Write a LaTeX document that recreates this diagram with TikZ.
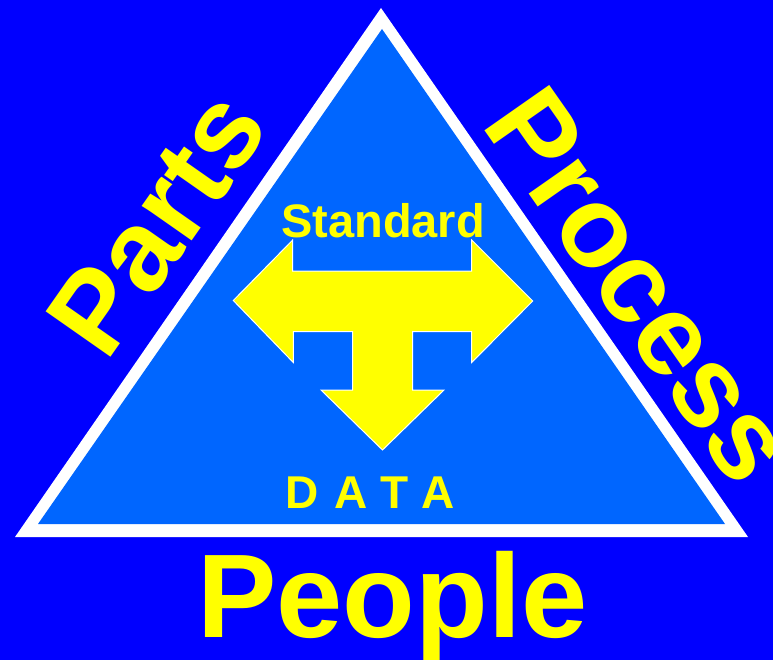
\documentclass[tikz,border=0pt]{standalone}
\usepackage{fontspec}
\setmainfont{Liberation Sans}
\definecolor{bgblue}{HTML}{0000FF}
\definecolor{triblue}{HTML}{0066FF}
\definecolor{yel}{HTML}{FFFF00}
\begin{document}
\begin{tikzpicture}[x=1pt,y=-1pt,
  lbl/.style={text=yel, inner sep=0pt, outer sep=0pt},
  bigfont/.style={font=\bfseries\fontsize{115}{115}\selectfont},
  midfont/.style={font=\bfseries\fontsize{47}{47}\selectfont},
  datafont/.style={font=\bfseries\fontsize{46}{46}\selectfont},
  peoplefont/.style={font=\bfseries\fontsize{119}{119}\selectfont}]
\fill[bgblue] (0,0) rectangle (773,660);
\useasboundingbox (0,0) rectangle (773,660);
% triangle with white border
\fill[white] (381,8) -- (15,537) -- (748,537) -- cycle;
\fill[triblue] (382,29) -- (38,524) -- (725,524) -- cycle;
% three-way arrow
\filldraw[fill=yel, draw=white, line width=1pt, line join=miter]
  (292.7,240) -- (292.7,271) -- (471.7,271) -- (471.7,240) -- (532.7,301)
  -- (471.7,362.5) -- (471.7,331.7) -- (412.7,331.7) -- (412.7,390)
  -- (444,390) -- (382.5,450) -- (321,390) -- (352.7,390) -- (352.7,331.7)
  -- (293.3,331.7) -- (293.3,362.5) -- (233.3,300.5) -- cycle;
% labels
\node[lbl, bigfont, anchor=base west, rotate=55] (parts) at (106.7,363.1) {Parts};
\node[lbl, bigfont, anchor=base west, rotate=-55] (process) at (480,124.6) {Process};
\node[lbl, midfont, anchor=base] (standard) at (383,237) {Standard};
\node[lbl, datafont, anchor=base west] (data) at (285.8,508.3) {D\hspace{16pt}A\hspace{12.5pt}T\hspace{13pt}A};
\node[lbl, peoplefont, anchor=base] (people) at (392.4,637.7) {People};
\end{tikzpicture}
\end{document}
